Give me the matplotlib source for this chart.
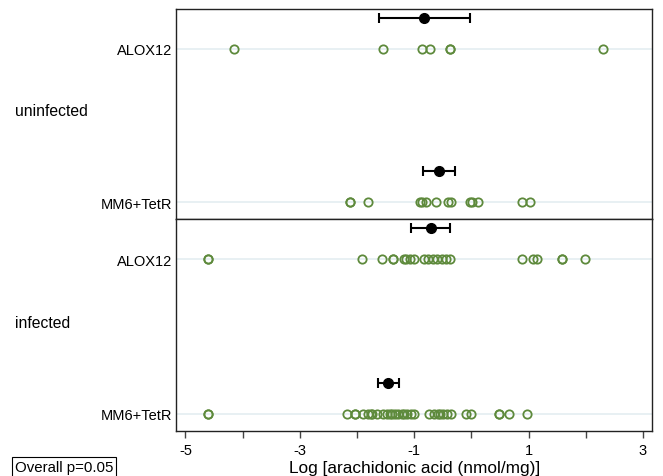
import numpy as np
import matplotlib
matplotlib.use('Agg')
import matplotlib.pyplot as plt

plt.rcParams['font.family'] = ['Liberation Sans', 'DejaVu Sans']
plt.rcParams['axes.unicode_minus'] = False  # 用普通减号

# 数据：log 花生四烯酸 (nmol/mg)
groups = ['uninfected', 'infected']
cell_lines = ['ALOX12', 'MM6+TetR']

uninf_alox12 = [-4.15, -1.54, -0.87, -0.73, -0.38, -0.38, 2.30]
uninf_mm6 = [-2.12, -2.12, -1.81, -0.90, -0.87, -0.79, -0.62, -0.41, -0.36,
             -0.03, 0.02, 0.12, 0.88, 1.03]
inf_alox12 = [-4.60, -4.60, -1.91, -1.57, -1.37, -1.37, -1.18, -1.14, -1.07,
              -1.01, -0.83, -0.76, -0.67, -0.60, -0.52, -0.45, -0.38,
              0.89, 1.07, 1.15, 1.59, 1.59, 1.98]
inf_mm6 = [-4.60, -4.60, -2.18, -2.04, -2.03, -1.90, -1.80, -1.76, -1.74,
           -1.65, -1.55, -1.47, -1.42, -1.38, -1.33, -1.28, -1.22, -1.17,
           -1.12, -1.06, -1.00, -0.74, -0.66, -0.58, -0.55, -0.50, -0.43,
           -0.35, -0.10, 0.00, 0.48, 0.48, 0.66, 0.97]

# 均值和误差条（半宽）
uninf_means = [-0.82, -0.57]
uninf_err = [0.79, 0.28]
inf_means = [-0.71, -1.45]
inf_err = [0.34, 0.19]

panels = [
    (groups[0], [uninf_alox12, uninf_mm6], uninf_means, uninf_err),
    (groups[1], [inf_alox12, inf_mm6], inf_means, inf_err),
]

W, H = 663, 477
fig = plt.figure(figsize=(W / 100, H / 100), dpi=100)

left = 176.3 / W
width = (652 - 176.3) / W
panel_px = [(10, 220), (220, 432)]
green = '#5e8a3c'
row_y = [1, 0]  # ALOX12 在上，MM6+TetR 在下
offset = 0.2

axes = []
for (name, pts, means, errs), (top, bot) in zip(panels, panel_px):
    ax = fig.add_axes([left, (H - bot) / H, width, (bot - top) / H])
    axes.append(ax)
    for y, vals, m, e in zip(row_y, pts, means, errs):
        ax.axhline(y, color='#e4edf1', lw=1.2, zorder=0)
        ax.plot(vals, [y] * len(vals), 'o', mfc='none', mec=green,
                mew=1.3, ms=6, zorder=2)
        ax.errorbar([m], [y + offset], xerr=[e], fmt='o', color='black',
                    ms=7, capsize=3.5, elinewidth=1.5, capthick=1.5, zorder=3)
    ax.set_xlim(-5.16, 3.16)
    ax.set_ylim(-0.11, 1.26)
    ax.set_yticks(row_y)
    ax.set_yticklabels(cell_lines, fontsize=10.5)
    ax.tick_params(axis='y', length=0, pad=3)
    for s in ax.spines.values():
        s.set_linewidth(1.0)
        s.set_color('#222222')
    fig.text(15 / W, 1 - ((top + bot) / 2 - 3) / H, name, fontsize=11.3,
             ha='left', va='center')

axes[0].tick_params(axis='x', bottom=False, labelbottom=False)
ax2 = axes[1]
ax2.set_xticks([-5, -3, -1, 1, 3])
ax2.set_xticks([-4, -2, 0, 2], minor=True)
ax2.tick_params(axis='x', which='both', length=5, width=1.0, labelsize=10.5,
                direction='out', color='#444444')
ax2.set_xlabel('Log [arachidonic acid (nmol/mg)]', fontsize=12.4, labelpad=2)

fig.text(15 / W, 1 - 468 / H, 'Overall p=0.05', fontsize=10.8, ha='left',
         va='center',
         bbox=dict(boxstyle='square,pad=0.2', fc='white', ec='black', lw=0.8))

plt.savefig('out.png', dpi=100)
